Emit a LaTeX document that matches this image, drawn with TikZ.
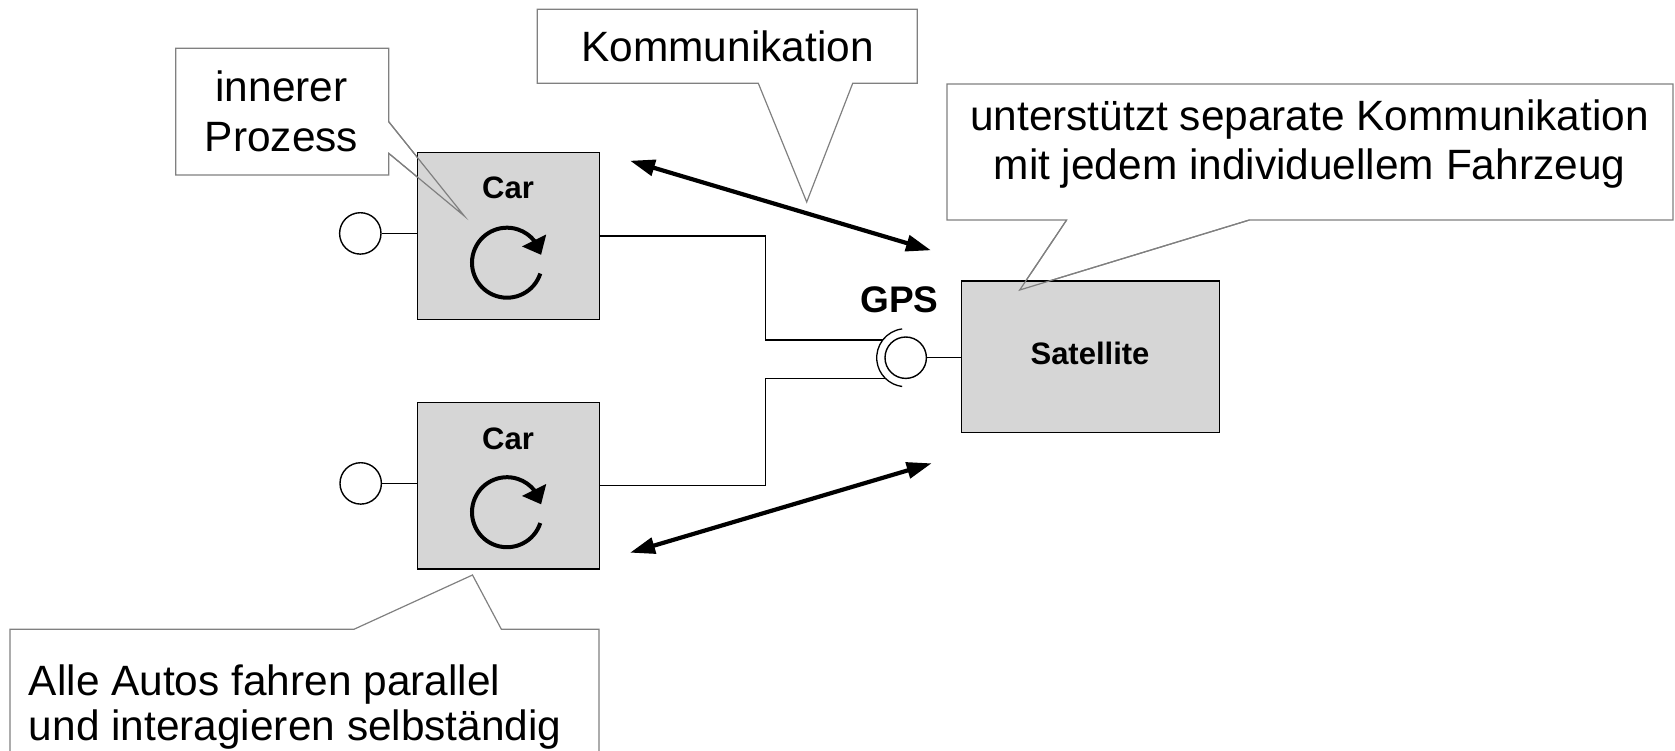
\documentclass[tikz,border=0pt]{standalone}
\usepackage{fontspec}
\setmainfont{Liberation Sans}
\usetikzlibrary{arrows.meta,bending}
\definecolor{boxgray}{RGB}{214,214,214}
\definecolor{callgray}{RGB}{128,128,128}
\begin{document}
\begin{tikzpicture}[x=0.5pt,y=-0.5pt,
  calloutline/.style={draw=callgray,line width=0.6pt,line join=miter},
  calltext/.style={font=\fontsize{21.2}{25}\selectfont,inner sep=0pt,anchor=base},
  compbox/.style={draw=black,fill=boxgray,line width=0.7pt,inner sep=0pt},
  boldlbl/.style={font=\bfseries\fontsize{15.5}{18}\selectfont,inner sep=0pt,anchor=base},
  portball/.style={circle,draw=black,fill=white,line width=0.7pt,minimum size=20.7pt,inner sep=0pt},
  wire/.style={draw=black,line width=0.65pt},
  comm/.style={line width=2.1pt,{Triangle[length=12.5pt,width=8pt]}-{Triangle[length=12.5pt,width=8pt]}},
  cyc/.style={line width=2pt,-{Triangle[length=8pt,width=13pt]}}
]
\clip (0,0) rectangle (1675,750);
% callouts (filled, behind)
\draw[calloutline,fill=white] (175.7,48.3) -- (388.7,48.3) -- (388.7,121.7) -- (464.3,216) -- (388.7,153.3) -- (388.7,175) -- (175.7,175) -- cycle;
\draw[calloutline,fill=white] (537.3,9.3) -- (917.3,9.3) -- (917.3,83.3) -- (852.7,83.3) -- (806.7,202) -- (758.3,83.3) -- (537.3,83.3) -- cycle;
\draw[calloutline,fill=white] (947,84) -- (1673,84) -- (1673,220) -- (1249.4,220) -- (1019.7,290) -- (1066.6,220) -- (947,220) -- cycle;
\draw[calloutline,fill=white] (10,629.3) -- (353.9,629.3) -- (472.5,575) -- (501.4,629.3) -- (599,629.3) -- (599,770) -- (10,770) -- cycle;
% components
\node[compbox,minimum width=91pt,minimum height=83.3pt] (car1) at (508.3,236) {};
\node[compbox,minimum width=91pt,minimum height=83.3pt] (car2) at (508.3,485.7) {};
\node[compbox,minimum width=128.8pt,minimum height=75.65pt] (sat) at (1090.5,356.7) {};
\node[boldlbl] (car1lbl) at (508,198.3) {Car};
\node[boldlbl] (car2lbl) at (508,449) {Car};
\node[boldlbl] (satlbl) at (1090,364.3) {Satellite};
\node[boldlbl,font=\bfseries\fontsize{18.5}{22}\selectfont] (gpslbl) at (899.3,312.3) {GPS};
% inner process symbols
\coordinate (cc1) at (507,262.7);
\coordinate (cc2) at (507,512.2);
\draw[cyc] ([shift={(-18:17.5pt)}]cc1) arc[start angle=-18,end angle=-347,radius=17.5pt];
\draw[cyc] ([shift={(-18:17.5pt)}]cc2) arc[start angle=-18,end angle=-347,radius=17.5pt];
% ports
\node[portball] (p1) at (360.3,233.4) {};
\node[portball] (p2) at (360.7,483.4) {};
\draw[wire] (p1) -- (p1 -| car1.west);
\draw[wire] (p2) -- (p2 -| car2.west);
% GPS interface
\coordinate (gpsc) at (905.7,357.7);
\node[portball] (gpsball) at (gpsc) {};
\draw[wire] (gpsball) -- (gpsball -| sat.west);
\draw[wire] ([shift={(97:14.5pt)}]gpsc) arc[start angle=97,end angle=263,radius=14.5pt];
\coordinate (s1) at ([shift={(142.4:14.5pt)}]gpsc);
\coordinate (s2) at ([shift={(225.3:14.5pt)}]gpsc);
\coordinate (bus) at (765.7,0);
\draw[wire] (car1.east) -- (car1.east -| bus) -- (bus |- s1) -- (s1);
\draw[wire] (car2.east) -- (car2.east -| bus) -- (bus |- s2) -- (s2);
% communication arrows
\coordinate (u1) at (630,160.7);
\coordinate (u2) at (931,250.3);
\coordinate (l1) at (630,552.7);
\coordinate (l2) at (931.7,463.3);
\draw[comm] (u1) -- (u2);
\draw[comm] (l1) -- (l2);
% callout outlines over the boxes
\draw[calloutline] (388.7,121.7) -- (464.3,216) -- (388.7,153.3);
\draw[calloutline] (1249.4,220) -- (1019.7,290) -- (1066.6,220);
% callout texts (base = baseline of the last line)
\node[calltext,align=center,font=\fontsize{21.2}{25}\selectfont] (innertxt) at (281.5,151) {innerer\\Prozess};
\node[calltext] (kommtxt) at (727.5,61) {Kommunikation};
\node[calltext,align=center,font=\fontsize{21.2}{24.2}\selectfont] (sattxt) at (1309.5,179.3) {unterstützt separate Kommunikation\\mit jedem individuellem Fahrzeug};
\node[calltext,align=left,anchor=base west,font=\fontsize{21.2}{22.5}\selectfont] (alletxt) at (28.5,740) {Alle Autos fahren parallel\\und interagieren selbständig};
\end{tikzpicture}
\end{document}
